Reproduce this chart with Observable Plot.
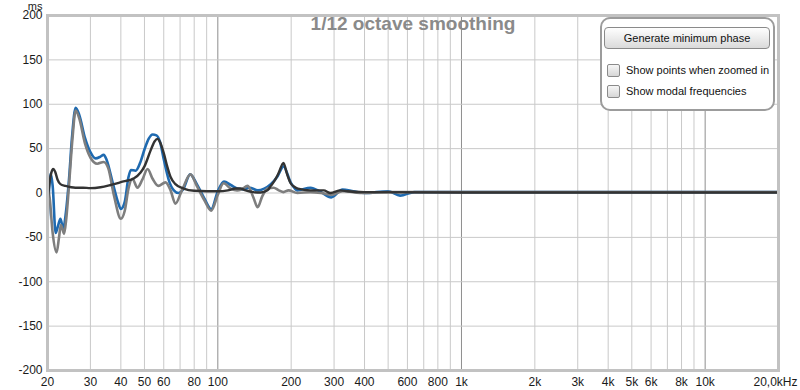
<!DOCTYPE html>
<html>
<head>
<meta charset="utf-8">
<script src="https://cdn.jsdelivr.net/npm/d3@7"></script>
<script src="https://cdn.jsdelivr.net/npm/@observablehq/plot@0.6"></script>
<style>
  html, body { margin: 0; padding: 0; background: #fff; }
  #wrap { position: relative; width: 800px; height: 390px; font-family: "Liberation Sans", Arial, sans-serif; }
  #title { position: absolute; left: 413px; top: 14px; transform: translateX(-50%); white-space: nowrap;
           font-size: 19px; line-height: 19px; font-weight: bold; color: #8a8a8a; }
  #box { position: absolute; left: 600px; top: 17px; width: 171px; height: 90px; border: 2px solid #9c9c9c;
         border-radius: 10px; background: #fff; }
  #btn { position: absolute; left: 604px; top: 27px; width: 164px; height: 20px; border: 1px solid #8a8a8a;
         border-radius: 4px; background: linear-gradient(#fefefe, #dadada); font-size: 11px; line-height: 20px;
         text-align: center; color: #111; }
  .cb { position: absolute; left: 607px; width: 11px; height: 11px; border: 1px solid #8a8a8a; border-radius: 2px;
        background: linear-gradient(#f6f6f6, #d6d6d6); }
  .lbl { position: absolute; left: 626px; font-size: 11px; line-height: 13px; color: #111; white-space: nowrap; }
</style>
</head>
<body>
<div id="wrap">
  <div id="chart"></div>
  <div id="title">1/12 octave smoothing</div>
  <div id="box"></div>
  <div id="btn">Generate minimum phase</div>
  <div class="cb" style="top:64px"></div>
  <div class="lbl" style="top:64px">Show points when zoomed in</div>
  <div class="cb" style="top:85px"></div>
  <div class="lbl" style="top:85px">Show modal frequencies</div>
</div>
<script>
// ---- data (frequency in Hz, group delay in ms) ----
const freqBlue = [20, 20.6, 21.0, 21.6, 22.1, 22.6, 23.2, 23.8, 24.5, 25.2, 26.1, 27, 28.5, 30, 31.5, 33, 34, 35, 37, 39, 40, 41.5, 43, 44, 46, 48, 50, 52, 54, 56, 58, 60, 63, 66, 69, 72, 77, 82, 88, 94, 100, 106, 113, 120, 127, 135, 146, 155, 165, 176, 186, 199, 212, 240, 265, 292, 325, 360, 400, 500, 560, 640, 800, 1000, 2000, 5000, 10000, 20000];
const msBlue   = [-38, 22, 8, -45, -37, -29, -40, -22, 15, 62, 96, 88, 62, 46, 39, 41, 43, 37, 12, -11, -18, -10, 18, 26, 25, 34, 49, 61, 66, 65, 57, 38, 14, 3, 0, 4, 21, 10, -6, -18, 2, 13, 9, 5, 4, 6, 3, 5, 10, 19, 30, 12, 3, 6, 1, -5, 4, 2, 0, 2, -3, 1, 1, 1, 1, 1, 1, 1];

const freqGray = [20, 20.4, 21.0, 21.8, 22.3, 22.7, 23.0, 23.4, 23.9, 24.6, 25.3, 26.1, 27, 28.5, 30, 32, 34, 35.5, 37.5, 40, 41.5, 43, 44.6, 46.8, 49, 51.5, 54, 57, 61, 64, 67, 71, 77.3, 82, 88, 94, 100, 105.6, 113, 120, 125, 132.6, 140, 145.7, 152, 160, 169.5, 178, 186, 195, 212, 240, 265, 292, 325, 400, 500, 640, 1000, 20000];
const msGray   = [5, -5, -45, -67, -50, -36, -40, -46, -28, 15, 60, 93, 84, 56, 40, 33, 35, 28, -3, -29, -20, 5, 16, 6, 15, 27, 16, 8, 12, 3, -12, 2, 21, 8, -8, -20, -2, 11, 5, 3, 4, 8, -5, -16, -4, 5, 6, 3, 1, 3, 0, 1, 0, -2, 2, 0, 1, 1, 1, 1];

const freqDark = [20, 20.4, 20.8, 21.1, 21.5, 22, 22.6, 23.7, 25, 26, 28, 30, 33, 36.3, 41, 45, 48.2, 50, 53, 55, 56.5, 58, 60, 62, 64, 67, 72.4, 80, 90, 100, 110, 118, 124, 130, 140, 150, 160, 165, 172, 178, 186, 192, 199, 206, 213, 240, 272, 290, 319, 340, 400, 1000, 20000];
const msDark   = [-10, 12, 24, 27, 24, 15, 10, 8, 6.5, 6, 6, 5.5, 6.5, 9, 13, 16, 23, 30, 48, 58, 61, 57, 45, 30, 18, 10, 5, 2.5, 2, 2, 3, 5, 5, 3, 1, 0.5, 3, 8, 15, 23, 34, 22, 11, 7, 5, 3, 3, 0, 3, 2, 1, 0.5, 0.5];

// ---- axes / grid ----
const yTicks = [-200, -150, -100, -50, 0, 50, 100, 150, 200];
const yGrid = [-150, -100, -50, 0, 50, 100, 150];
const minorGridFreqs = [30, 40, 50, 60, 70, 80, 90, 200, 300, 400, 500, 600, 700, 800, 900, 2000, 3000, 4000, 5000, 6000, 7000, 8000, 9000];
const decadeGridFreqs = [100, 1000, 10000];
const xTickValues = [20, 30, 40, 50, 60, 80, 100, 200, 300, 400, 600, 800, 1000, 2000, 3000, 4000, 5000, 6000, 8000, 10000];
const xTickLabels = ["20", "30", "40", "50", "60", "80", "100", "200", "300", "400", "600", "800", "1k", "2k", "3k", "4k", "5k", "6k", "8k", "10k"];
const xEndValue = [20000];
const xEndLabel = ["20,0kHz"];
const yUnit = ["ms"];

const toRows = (fs, vs) => fs.map((f, i) => ({f, ms: vs[i]}));
const blueRows = toRows(freqBlue, msBlue);
const grayRows = toRows(freqGray, msGray);
const darkRows = toRows(freqDark, msDark);

const chart = Plot.plot({
  width: 800,
  height: 390,
  marginLeft: 47,
  marginRight: 22,
  marginTop: 15,
  marginBottom: 20,
  x: {type: "log", domain: [20, 20000], axis: null},
  y: {domain: [-200, 200], axis: null},
  style: {fontFamily: "'Liberation Sans', Arial, sans-serif", fontSize: "12px", color: "#1a1a1a", background: "#fff"},
  marks: [
    Plot.gridX(minorGridFreqs, {stroke: "#c9c9c9", strokeOpacity: 1, strokeWidth: 1}),
    Plot.gridX(decadeGridFreqs, {stroke: "#8e8e8e", strokeOpacity: 1, strokeWidth: 1}),
    Plot.gridY(yGrid, {stroke: "#c9c9c9", strokeOpacity: 1, strokeWidth: 1}),
    Plot.line(blueRows, {x: "f", y: "ms", stroke: "#1f6ab0", strokeWidth: 2.6, curve: "monotone-x"}),
    Plot.line(grayRows, {x: "f", y: "ms", stroke: "#7e7e7e", strokeWidth: 2.6, curve: "monotone-x"}),
    Plot.line(darkRows, {x: "f", y: "ms", stroke: "#333333", strokeWidth: 2.4, curve: "monotone-x"}),
    Plot.frame({stroke: "#c2c2c2", strokeWidth: 3}),
    Plot.axisY(yTicks, {tickSize: 0, tickPadding: 5, tickFormat: d => String(d), label: null, fontSize: 12}),
    Plot.text(xTickValues, {x: d => d, text: (d, i) => xTickLabels[i], frameAnchor: "bottom", lineAnchor: "top", dy: 7, fontSize: 12, fill: "#1a1a1a"}),
    Plot.text(xEndLabel, {x: xEndValue, text: d => d, frameAnchor: "bottom", lineAnchor: "top", dy: 7, dx: 19, textAnchor: "end", fontSize: 12, fill: "#1a1a1a"}),
    Plot.text(yUnit, {text: d => d, frameAnchor: "top-left", textAnchor: "end", lineAnchor: "middle", dx: -5, dy: -9.5, fontSize: 11, fill: "#1a1a1a"})
  ]
});
document.getElementById("chart").appendChild(chart);
</script>
</body>
</html>
